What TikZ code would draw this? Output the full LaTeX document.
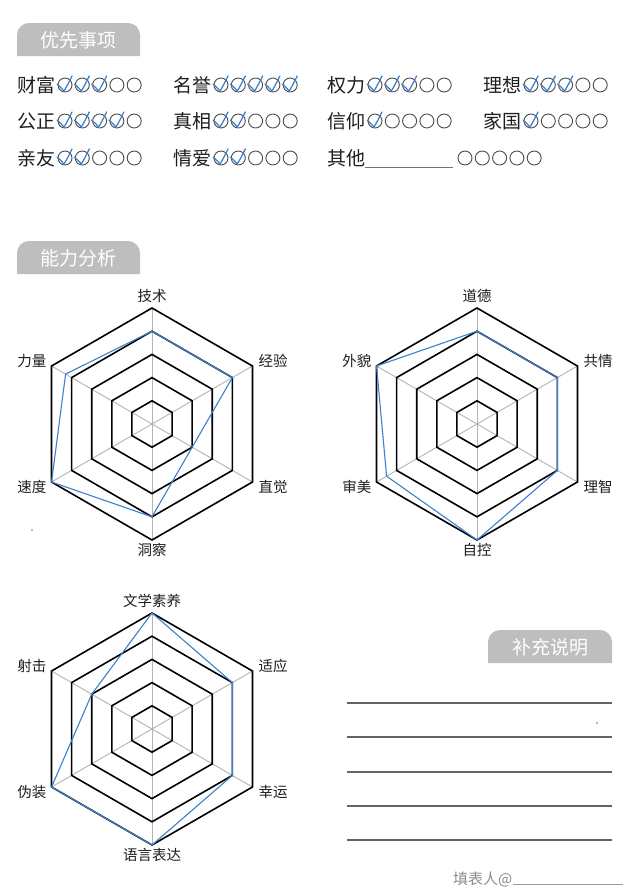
\documentclass[tikz,border=0pt]{standalone}
\usepackage{fontspec}
\setmainfont{Noto Sans CJK SC}
\usetikzlibrary{calc}
\definecolor{tabgray}{RGB}{190,190,190}
\definecolor{chkblue}{RGB}{61,128,205}
\definecolor{inkc}{RGB}{30,30,30}
\definecolor{linegray}{RGB}{100,100,100}
\definecolor{spokegray}{RGB}{180,180,180}
\tikzset{
  plabel/.style={inner sep=0pt, text=inkc, font=\fontsize{19}{19}\selectfont},
  rlabel/.style={inner sep=0pt, text=inkc, font=\fontsize{14.5}{14.5}\selectfont},
  tabtext/.style={inner sep=0pt, text=white, font=\fontsize{19}{19}\selectfont},
  circ/.style={draw=black!70, line width=0.9pt},
  chk/.style={draw=chkblue, line width=1.25pt, line cap=round, line join=round},
  spoke/.style={draw=spokegray, line width=0.9pt},
  ring/.style={draw=black, line width=1.6pt},
  valline/.style={draw=chkblue, line width=1.1pt, line join=round},
  noteline/.style={draw=linegray, line width=1.2pt},
}
\newcommand\mytab[5]{%
  \fill[tabgray] (#2,{-#4-33}) -- (#2,{-#4-12}) arc[start angle=180,end angle=90,radius=12pt] -- ({#3-12},-#4) arc[start angle=90,end angle=0,radius=12pt] -- (#3,{-#4-33}) -- cycle;
  \node[tabtext] (#1) at ({(#2+#3)/2},{-#4-17}) {#5};}
\newcommand\chkmark[2]{%
  \draw[chk] ({#1-8},{-#2+1}) .. controls ({#1-5},{-#2-1}) and ({#1-3},{-#2-4}) .. ({#1-1},{-#2-6}) .. controls ({#1+2},{-#2-1}) .. ({#1+7},{-#2+9});}
\newcommand\prio[5]{%
  \node[plabel, anchor=west] (#1) at (#2,-#3) {#4};
  \foreach \i in {0,...,4} {\draw[circ] ({#2+48+17.3*\i},-#3) circle[radius=7pt];}
  \ifnum#5>0 \foreach \i in {1,...,#5} {\chkmark{#2+48+17.3*(\i-1)}{#3}}\fi}
\newcommand\radarweb[2]{%
  \begin{scope}[shift={(#1,-#2)}]
    \foreach \a in {90,30,-30,-90,-150,150} {\draw[spoke] (0,0) -- (\a:116);}
    \foreach \r in {23.2,46.4,69.6,92.8,116} {\draw[ring] (90:\r) -- (30:\r) -- (-30:\r) -- (-90:\r) -- (-150:\r) -- (150:\r) -- cycle;}
  \end{scope}}
\newcommand\radarval[8]{%
  \begin{scope}[shift={(#1,-#2)}]
    \draw[valline] (90:{116*#3}) -- (30:{116*#4}) -- (-30:{116*#5}) -- (-90:{116*#6}) -- (-150:{116*#7}) -- (150:{116*#8}) -- cycle;
  \end{scope}}
\newcommand\radarlabels[9]{%
  \node[rlabel] (#1t) at (#2,{-#3+116+12}) {#4};
  \node[rlabel, anchor=west] (#1ur) at ({#2+100.5+6},{-#3+58+5}) {#5};
  \node[rlabel, anchor=west] (#1lr) at ({#2+100.5+6},{-#3-58-5}) {#6};
  \node[rlabel] (#1b) at (#2,{-#3-116-10}) {#7};
  \node[rlabel, anchor=east] (#1ll) at ({#2-100.5-5},{-#3-58-5}) {#8};
  \node[rlabel, anchor=east] (#1ul) at ({#2-100.5-5},{-#3+58+5}) {#9};}
\begin{document}
\begin{tikzpicture}[x=1pt,y=1pt]
\fill[white] (0,0) rectangle (640,-889);
\useasboundingbox (0,0) rectangle (640,-889);

% header tabs
\mytab{tabA}{17}{140}{23}{优先事项}
\mytab{tabB}{17}{140}{241}{能力分析}
\mytab{tabC}{488}{612}{630}{补充说明}

% priorities
\prio{pa}{17}{85}{财富}{3}
\prio{pb}{173}{85}{名誉}{5}
\prio{pc}{327}{85}{权力}{3}
\prio{pd}{483}{85}{理想}{3}
\prio{pe}{17}{121}{公正}{4}
\prio{pf}{173}{121}{真相}{2}
\prio{pg}{327}{121}{信仰}{1}
\prio{ph}{483}{121}{家国}{1}
\prio{pi}{17}{158}{亲友}{2}
\prio{pj}{173}{158}{情爱}{2}
\node[plabel, anchor=west] (pk) at (327,-158) {其他};
\draw[draw=black!55, line width=0.9pt] (365,-167) -- (453,-167);
\foreach \i in {0,...,4} {\draw[circ] ({465+17.3*\i},-158) circle[radius=7pt];}

% radar charts
\radarweb{152}{424}
\radarval{152}{424}{0.8}{0.8}{0.4}{0.8}{1.0}{0.86}
\radarlabels{ra}{152}{424}{技术}{经验}{直觉}{洞察}{速度}{力量}

\radarweb{477}{424}
\radarval{477}{424}{0.8}{0.8}{0.8}{1.0}{0.9}{1.0}
\radarlabels{rb}{477}{424}{道德}{共情}{理智}{自控}{审美}{外貌}

\radarweb{152}{729}
\radarval{152}{729}{1.0}{0.8}{0.8}{1.0}{1.0}{0.6}
\radarlabels{rc}{152}{729}{文学素养}{适应}{幸运}{语言表达}{伪装}{射击}

% stray dots
\fill[chkblue] (32,-530) circle[radius=0.9pt];
\fill[chkblue] (597,-723) circle[radius=0.9pt];

% note lines
\foreach \yy in {703,737,772,806,840} {\draw[noteline] (347,-\yy) -- (612,-\yy);}

% signer
\node[inner sep=0pt, anchor=base west, text=black!45, font=\fontsize{15}{15}\selectfont] (signer) at (453,-884) {填表人@};
\draw[draw=black!40, line width=0.8pt] (signer.base east) -- (623,-884);
\end{tikzpicture}
\end{document}
